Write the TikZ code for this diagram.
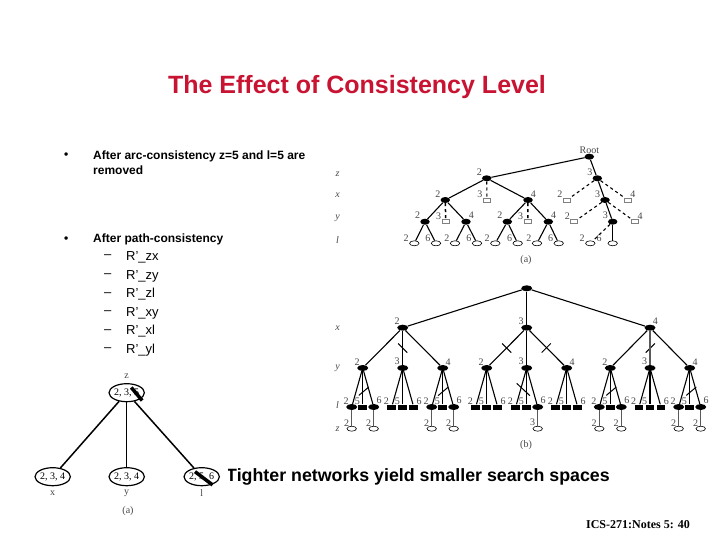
\documentclass[tikz,border=0pt]{standalone}
\usepackage{fontspec}
\setmainfont{Liberation Sans}
\newfontfamily\timesfont{Liberation Serif}
\definecolor{titlered}{RGB}{200,20,50}
\definecolor{labgray}{RGB}{70,70,70}
\usetikzlibrary{shapes.geometric}

\begin{document}
\begin{tikzpicture}[x=1pt,y=-1pt,
  point/.style={ellipse,fill=black,minimum width=11pt,minimum height=6pt,inner sep=0pt},
  pointa/.style={ellipse,fill=black,minimum width=9.5pt,minimum height=6pt,inner sep=0pt},
  leaf/.style={ellipse,draw=black,line width=0.6pt,fill=white,minimum width=9.5pt,minimum height=5pt,inner sep=0pt},
  openbox/.style={rectangle,draw=gray,line width=0.7pt,fill=white,minimum width=7pt,minimum height=4pt,inner sep=0pt},
  fullbox/.style={rectangle,fill=black,minimum width=8.5pt,minimum height=5pt,inner sep=0pt},
  varnode/.style={ellipse,draw=black,line width=1.2pt,fill=white,minimum width=33pt,minimum height=18pt,inner sep=0pt,font=\timesfont\fontsize{10}{11}\selectfont},
  tick/.style={rectangle,fill=black,minimum width=13pt,minimum height=1pt,inner sep=0pt},
  strike/.style={rectangle,fill=black,minimum height=3.5pt,inner sep=0pt},
  every label/.style={font=\timesfont\fontsize{10}{11}\selectfont,text=labgray,inner sep=0pt},
  label distance=0pt,
  ll/.style={label={135:#1}},
  lr/.style={label={45:#1}},
  la/.style={label={[xshift=-2pt]135:#1}},
  lx/.style={label={[xshift=-3pt,yshift=-1pt]135:#1}},
  varname/.style={font=\timesfont\itshape\fontsize{10}{11}\selectfont,text=labgray,inner sep=0pt},
  capname/.style={font=\timesfont\fontsize{10}{11}\selectfont,text=labgray,inner sep=0pt},
  bodytext/.style={anchor=west,align=left,inner sep=0pt,font=\fontsize{13}{15}\selectfont},
  boldtext/.style={anchor=west,align=left,inner sep=0pt,font=\bfseries\fontsize{12}{15}\selectfont},
  every edge/.style={draw,line width=1.1pt},
  heavy/.style={line width=1.5pt},
  lowedge/.style={line width=1.3pt,draw=black!65},
  node distance = 11pt]
          \useasboundingbox (0,0) rectangle (720,540);
          \node[inner sep=0pt,text=titlered,font=\bfseries\fontsize{25}{28}\selectfont](title) at (357,87) {The Effect of Consistency Level};
          \node[boldtext](bull0) at (64,156) {•};
          \node[boldtext](text0) at (93,162.5) {After arc-consistency z=5 and l=5 are\\removed};
          \node[boldtext](bull1) at (64,240) {•};
          \node[boldtext](text1) at (93,239) {After path-consistency};
          \node[bodytext](dash0) at (104,257) {–};
          \node[bodytext](item0) at (126,257) {R'\_zx};
          \node[bodytext](dash1) at (104,276) {–};
          \node[bodytext](item1) at (126,276) {R'\_zy};
          \node[bodytext](dash2) at (104,294.5) {–};
          \node[bodytext](item2) at (126,294.5) {R'\_zl};
          \node[bodytext](dash3) at (104,313) {–};
          \node[bodytext](item3) at (126,313) {R'\_xy};
          \node[bodytext](dash4) at (104,331.5) {–};
          \node[bodytext](item4) at (126,331.5) {R'\_xl};
          \node[bodytext](dash5) at (104,350) {–};
          \node[bodytext](item5) at (126,350) {R'\_yl};
          \node[anchor=west,inner sep=0pt,font=\bfseries\fontsize{17.8}{20}\selectfont](tight) at (226,477) {Tighter networks yield smaller search spaces};
          \node[anchor=east,inner sep=0pt,font=\timesfont\bfseries\fontsize{12}{14}\selectfont](foot) at (690,525) {ICS-271:Notes 5: 40};
          % constraint graph
          \fill[white] (25,375) rectangle (228,518);
          \node[varnode](c0) at (126.7,392.7) {2, 3, 5};
          \node[varnode](c1) at (52.7,476.7)  {2, 3, 4};
          \node[varnode](c2) at (126.7,476.7) {2, 3, 4};
          \node[varnode](c3) at (201.7,476.7) {2, 5, 6};
          \node[strike,minimum width=17pt,rotate=-50](s0) at (136.7,394) {};
          \node[strike,minimum width=22pt,rotate=-37](s1) at (203.8,478.3) {};
          \node[capname](n0) at (126.7,376.7) {z};
          \node[capname](n1) at (52.7,493)    {x};
          \node[capname](n2) at (126.7,493)   {y};
          \node[capname](n3) at (201.7,493)   {l};
          \node[capname](n4) at (128,510.7)   {(a)};
          \path
            (c0) edge[heavy] node {} (c1)
            (c0) edge[heavy] node {} (c2)
            (c0) edge[heavy] node {} (c3)
            ;
          % search space (a)
          \node[pointa,label={90:Root}](a0)  at (589.3,156.7) {};
          \node[pointa,la=2](a1)  at (486.7,178.3) {};
          \node[pointa,la=3](a2)  at (597.3,178.3) {};
          \node[pointa,la=2](a3)  at (445.3,200)   {};
          \node[openbox,la=3](a4)  at (487,200)     {};
          \node[pointa,lr=4](a5)  at (528,200)     {};
          \node[openbox,la=2](a6)  at (567,200)     {};
          \node[pointa,la=3](a7)  at (605,200)     {};
          \node[openbox,lr=4](a8)  at (627.7,200)   {};
          \node[pointa,la=2](a9)  at (425,221.7)   {};
          \node[openbox,la=3](a10) at (445.7,221.7) {};
          \node[pointa,lr=4](a11) at (466,221.7)   {};
          \node[pointa,la=2](a12) at (507.3,221.7) {};
          \node[openbox,la=3](a13) at (527.7,221.7) {};
          \node[pointa,lr=4](a14) at (548.3,221.7) {};
          \node[openbox,la=2](a15) at (574.3,221.7) {};
          \node[pointa,la=3](a16) at (612.7,221.7) {};
          \node[openbox,lr=4](a17) at (635,221.7)   {};
          \node[leaf,lx=2](a18) at (414.3,243.3) {};
          \node[leaf,lx=6](a19) at (436,243.3)   {};
          \node[leaf,lx=2](a20) at (455,243.3)   {};
          \node[leaf,lx=6](a21) at (477,243.3)   {};
          \node[leaf,lx=2](a22) at (495.3,243.3) {};
          \node[leaf,lx=6](a23) at (517.7,243.3) {};
          \node[leaf,lx=2](a24) at (537,243.3)   {};
          \node[leaf,lx=6](a25) at (558.7,243.3) {};
          \node[leaf,lx=2](a26) at (590.3,243.3) {};
          \node[leaf,label={[xshift=-8.5pt,yshift=-1pt]135:6}](a27) at (612.7,243.3) {};
          \node[varname](v0) at (337.5,174) {z};
          \node[varname](v1) at (337.5,195) {x};
          \node[varname](v2) at (337.5,218) {y};
          \node[varname](v3) at (337.5,240) {l};
          \node[capname](capa) at (526,260) {(a)};
          \path
            (a0) edge node {} (a1)
            (a0) edge node {} (a2)
            (a1) edge node {} (a3)
            (a1) edge[dashed] node {} (a4)
            (a1) edge node {} (a5)
            (a2) edge[dashed] node {} (a6)
            (a2) edge node {} (a7)
            (a2) edge[dashed] node {} (a8)
            (a3) edge node {} (a9)
            (a3) edge[dashed,heavy] node {} (a10)
            (a3) edge node {} (a11)
            (a5) edge node {} (a12)
            (a5) edge[dashed,heavy] node {} (a13)
            (a5) edge node {} (a14)
            (a7) edge[dashed] node {} (a15)
            (a7) edge node {} (a16)
            (a7) edge[dashed] node {} (a17)
            (a9) edge node {} (a18)
            (a9) edge node {} (a19)
            (a11) edge node {} (a20)
            (a11) edge node {} (a21)
            (a12) edge node {} (a22)
            (a12) edge node {} (a23)
            (a14) edge node {} (a24)
            (a14) edge node {} (a25)
            (a16) edge[dashed] node {} (a26)
            (a16) edge[heavy] node {} (a27)
            ;
          % search space (b)
          \node[point](b0)  at (526.7,288.3) {};
          \node[point,ll=2](b1)  at (402.7,327.7) {};
          \node[point,ll=3](b2)  [right of = b1, node distance=124pt] {};
          \node[point,lr=4](b3)  [right of = b2, node distance=123.3pt] {};
          \node[point,ll=2](b4)  at (362.7,368) {};
          \node[point,ll=3](b5)  [right of = b4, node distance=40pt] {};
          \node[point,lr=4](b6)  [right of = b5, node distance=40pt] {};
          \node[point,ll=2](b7)  at (486.7,368) {};
          \node[point,ll=3](b8)  [right of = b7, node distance=40pt] {};
          \node[point,lr=4](b9)  [right of = b8, node distance=40pt] {};
          \node[point,ll=2](b10) at (610.3,368) {};
          \node[point,ll=3](b11) [right of = b10, node distance=39.7pt] {};
          \node[point,lr=4](b12) [right of = b11, node distance=39.7pt] {};
          \node[point,ll=2](b13) at (351.7,407)   {};
          \node[fullbox,ll=5](b14) [right of = b13] {};
          \node[point,lr=6](b15) [right of = b14] {};
          \node[fullbox,ll=2](b16) at (391.7,407) {};
          \node[fullbox,ll=5](b17) [right of = b16] {};
          \node[fullbox,lr=6](b18) [right of = b17] {};
          \node[point,ll=2](b19) at (431.7,407)   {};
          \node[fullbox,ll=5](b20) [right of = b19] {};
          \node[point,lr=6](b21) [right of = b20] {};
          \node[fullbox,ll=2](b22) at (475.7,407) {};
          \node[fullbox,ll=5](b23) [right of = b22] {};
          \node[fullbox,lr=6](b24) [right of = b23] {};
          \node[fullbox,ll=2](b25) at (515.7,407) {};
          \node[fullbox,ll=5](b26) [right of = b25] {};
          \node[point,lr=6](b27) [right of = b26] {};
          \node[fullbox,ll=2](b28) at (555.7,407) {};
          \node[fullbox,ll=5](b29) [right of = b28] {};
          \node[fullbox,lr=6](b30) [right of = b29] {};
          \node[point,ll=2](b31) at (599.3,407)   {};
          \node[fullbox,ll=5](b32) [right of = b31] {};
          \node[point,lr=6](b33) [right of = b32] {};
          \node[fullbox,ll=2](b34) at (639,407)   {};
          \node[fullbox,ll=5](b35) [right of = b34] {};
          \node[fullbox,lr=6](b36) [right of = b35] {};
          \node[point,ll=2](b37) at (678.7,407)   {};
          \node[fullbox,ll=5](b38) [right of = b37] {};
          \node[point,lr=6](b39) [right of = b38] {};
          \node[leaf,ll=2](b40) [below of = b13, node distance=21.7pt] {};
          \node[leaf,ll=2](b41) [below of = b15, node distance=21.7pt] {};
          \node[leaf,ll=2](b42) [below of = b19, node distance=21.7pt] {};
          \node[leaf,ll=2](b43) [below of = b21, node distance=21.7pt] {};
          \node[leaf,ll=3](b44) [below of = b27, node distance=21.7pt] {};
          \node[leaf,ll=2](b45) [below of = b31, node distance=21.7pt] {};
          \node[leaf,ll=2](b46) [below of = b33, node distance=21.7pt] {};
          \node[leaf,ll=2](b47) [below of = b37, node distance=21.7pt] {};
          \node[leaf,ll=2](b48) [below of = b39, node distance=21.7pt] {};
          \node[tick,rotate=-45](t0) at (402.7,348)   {};
          \node[tick,rotate=-45](t1) at (506.7,348)   {};
          \node[tick,rotate=45](t2)  at (546.2,348)   {};
          \node[tick,rotate=45](t3)  at (650.3,348)   {};
          \node[tick,rotate=40](t4)  at (363.8,391.2) {};
          \node[tick,rotate=40](t5)  at (443,391.5)   {};
          \node[tick,rotate=-43,minimum width=18pt](t6) at (523.3,389.5) {};
          \node[tick,rotate=40](t7)  at (611.3,391.2) {};
          \node[tick,rotate=40](t8)  at (691.3,391.2) {};
          \node[varname](v4) at (337.5,328) {x};
          \node[varname](v5) at (337.5,368) {y};
          \node[varname](v6) at (337.5,405) {l};
          \node[varname](v7) at (337.5,429) {z};
          \node[capname](capb) at (526,445) {(b)};
          \path
            (b0) edge node {} (b1)
            (b0) edge node {} (b2)
            (b0) edge node {} (b3)
            (b1) edge node {} (b4)
            (b1) edge[heavy] node {} (b5)
            (b1) edge node {} (b6)
            (b2) edge node {} (b7)
            (b2) edge node {} (b8)
            (b2) edge node {} (b9)
            (b3) edge node {} (b10)
            (b3) edge[lowedge] node {} (b11)
            (b3) edge node {} (b12)
            (b4) edge node {} (b13)
            (b4) edge[heavy] node {} (b14)
            (b4) edge node {} (b15)
            (b5) edge node {} (b16)
            (b5) edge[heavy] node {} (b17)
            (b5) edge node {} (b18)
            (b6) edge node {} (b19)
            (b6) edge node {} (b20)
            (b6) edge node {} (b21)
            (b7) edge node {} (b22)
            (b7) edge node {} (b23)
            (b7) edge node {} (b24)
            (b8) edge node {} (b25)
            (b8) edge node {} (b26)
            (b8) edge node {} (b27)
            (b9) edge node {} (b28)
            (b9) edge node {} (b29)
            (b9) edge node {} (b30)
            (b10) edge node {} (b31)
            (b10) edge[heavy] node {} (b32)
            (b10) edge node {} (b33)
            (b11) edge node {} (b34)
            (b11) edge[heavy] node {} (b35)
            (b11) edge node {} (b36)
            (b12) edge node {} (b37)
            (b12) edge[heavy] node {} (b38)
            (b12) edge node {} (b39)
            (b13) edge[lowedge] node {} (b40)
            (b15) edge[lowedge] node {} (b41)
            (b19) edge[lowedge] node {} (b42)
            (b21) edge[lowedge] node {} (b43)
            (b27) edge[lowedge] node {} (b44)
            (b31) edge[lowedge] node {} (b45)
            (b33) edge[lowedge] node {} (b46)
            (b37) edge[lowedge] node {} (b47)
            (b39) edge[lowedge] node {} (b48)
            ;
        \end{tikzpicture}
\end{document}
